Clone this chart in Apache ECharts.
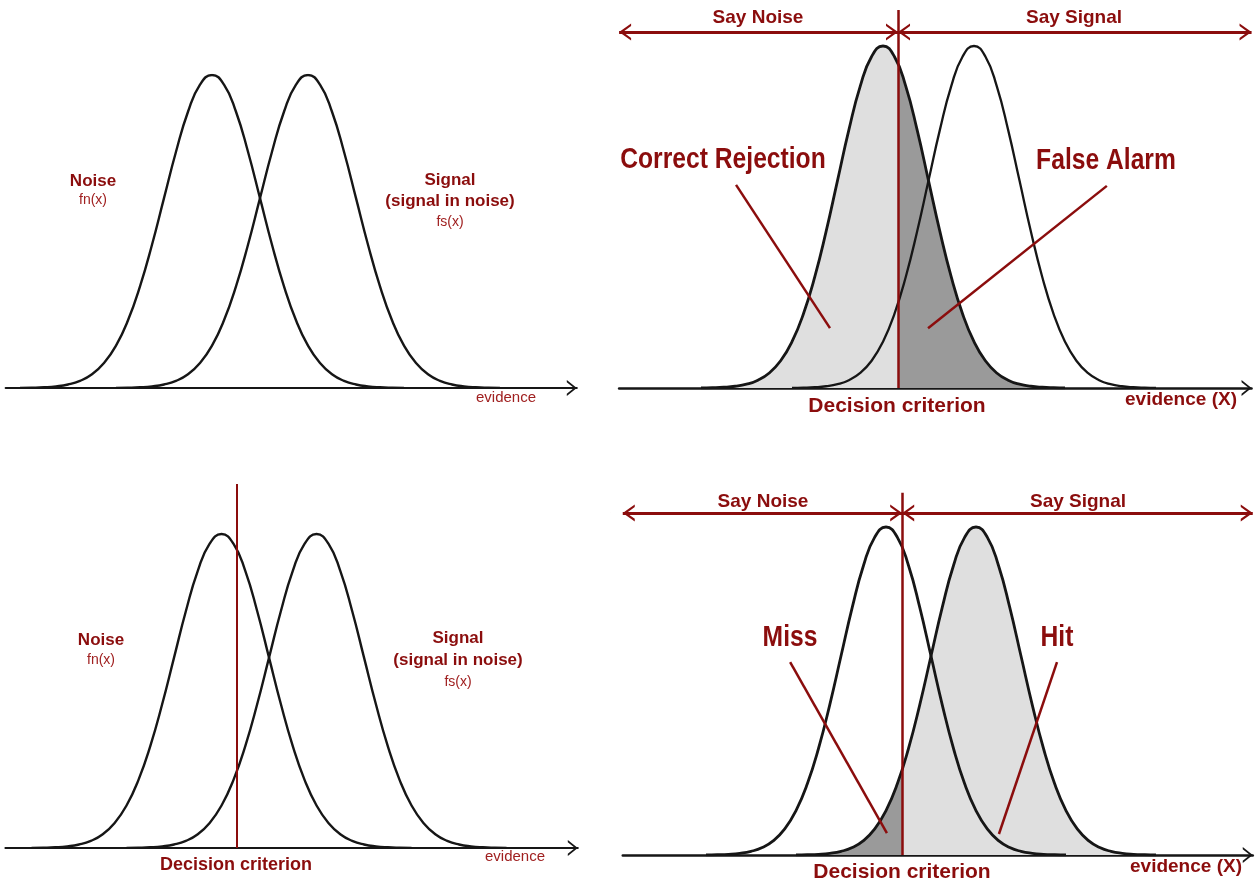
<!DOCTYPE html>
<html><head><meta charset="utf-8">
<script src="https://cdn.jsdelivr.net/npm/echarts@6/dist/echarts.min.js"></script>
<style>html,body{margin:0;padding:0;background:#fff}#c{width:1255px;height:884px}</style>
</head><body><div id="c"></div>
<script>
// ---- data (evidence in SD units, density relative to peak) ----
const noiseX  = [-4,-3.75,-3.5,-3.25,-3,-2.75,-2.5,-2.25,-2,-1.75,-1.5,-1.25,-1,-0.75,-0.5,-0.25,0,0.25,0.5,0.75,1,1.25,1.5,1.75,2,2.25,2.5,2.75,3,3.25,3.5,3.75,4];
const noiseY  = [0.0003,0.0009,0.0022,0.0051,0.0111,0.0228,0.0439,0.0796,0.1353,0.2163,0.3247,0.4578,0.6065,0.7548,0.8825,0.9692,1,0.9692,0.8825,0.7548,0.6065,0.4578,0.3247,0.2163,0.1353,0.0796,0.0439,0.0228,0.0111,0.0051,0.0022,0.0009,0.0003];
const signalX = [-2,-1.75,-1.5,-1.25,-1,-0.75,-0.5,-0.25,0,0.25,0.5,0.75,1,1.25,1.5,1.75,2,2.25,2.5,2.75,3,3.25,3.5,3.75,4,4.25,4.5,4.75,5,5.25,5.5,5.75,6];
const signalY = [0.0003,0.0009,0.0022,0.0051,0.0111,0.0228,0.0439,0.0796,0.1353,0.2163,0.3247,0.4578,0.6065,0.7548,0.8825,0.9692,1,0.9692,0.8825,0.7548,0.6065,0.4578,0.3247,0.2163,0.1353,0.0796,0.0439,0.0228,0.0111,0.0051,0.0022,0.0009,0.0003];
const criterionTR = 0.33;  // top-right panel
const criterionBL = 0.32;  // bottom-left panel
const criterionBR = 0.36;  // bottom-right panel

// ---- style ----
const RED = '#8b0d0d', RED2 = '#a02020', INK = '#161616';
const LIGHT = '#dfdfdf', DARK = '#9a9a9a';
const FONT = '"Liberation Sans", Arial, Helvetica, sans-serif';
// chevron arrow pointing up, tip at the centre of its box
const axisArrow = 'path://M50,0L50.5,0L50,0.5Z M50,62.5L100,125L86,125L50,80L14,125L0,125Z';
const lineArrow = 'path://M50,0L50.5,0L50,0.5Z M50,50L100,100L85,100L50,66L15,100L0,100Z';

// ---- panel layout ----
const panels = [
  {left: 5.6,   top: 75,    width: 571.2, height: 313,   xmin: -4.3,  xmax: 7.6,  ymax: 1,    axisW: 2},
  {left: 619.1, top: 8.38,  width: 632.45,height: 379.62,xmin: -5.8,  xmax: 8.1,  ymax: 1.11, axisW: 2.5},
  {left: 5.4,   top: 483.8, width: 572.4, height: 364.2, xmin: -4.55, xmax: 7.5,  ymax: 1.16, axisW: 2},
  {left: 622.75,top: 490.9, width: 630,   height: 364.1, xmin: -5.85, xmax: 8.15, ymax: 1.11, axisW: 2.5}
];

const grid = panels.map(p => ({left: p.left, top: p.top, width: p.width, height: p.height, containLabel: false}));
const xAxis = panels.map((p, i) => ({
  type: 'value', gridIndex: i, min: p.xmin, max: p.xmax,
  axisLine: {show: true, onZero: true, lineStyle: {color: INK, width: p.axisW},
             symbol: ['none', axisArrow], symbolSize: [16, 20]},
  axisTick: {show: false}, axisLabel: {show: false}, splitLine: {show: false}
}));
const yAxis = panels.map((p, i) => ({type: 'value', gridIndex: i, min: 0, max: p.ymax, show: false}));

function pairs(xs, ys) { return xs.map((x, i) => [x, ys[i]]); }
function curve(xs, ys, gi, w, extra) {
  return Object.assign({
    type: 'line', xAxisIndex: gi, yAxisIndex: gi, data: pairs(xs, ys),
    smooth: 0.5, showSymbol: false, silent: true, animation: false,
    lineStyle: {color: INK, width: w}, z: 3
  }, extra || {});
}
function area(xs, ys, gi) {
  return {
    type: 'line', xAxisIndex: gi, yAxisIndex: gi, data: pairs(xs, ys),
    smooth: 0.5, showSymbol: false, silent: true, animation: false,
    lineStyle: {width: 0, opacity: 0}, areaStyle: {opacity: 1}, z: 2
  };
}
function marks(items) {
  return {silent: true, animation: false, symbol: ['none', 'none'], label: {show: false},
          lineStyle: {color: RED, width: 2.5, type: 'solid'}, emphasis: {disabled: true}, data: items};
}
function seg(a, b, w, arrows) {
  const s = arrows ? {symbol: lineArrow, symbolSize: [17, 24]} : {};
  return [Object.assign({coord: a, lineStyle: {width: w, color: RED}}, s), Object.assign({coord: b}, s)];
}

const series = [
  // top-left
  curve(noiseX, noiseY, 0, 2.4),
  curve(signalX, signalY, 0, 2.4),
  // top-right
  area(noiseX, noiseY, 1),                       // index 2
  curve(noiseX, noiseY, 1, 2.8),
  curve(signalX, signalY, 1, 2.3, {markLine: marks([
    seg([criterionTR, 0], [criterionTR, 1.105], 2.5),
    seg([-5.8, 1.041], [criterionTR, 1.041], 3, true),
    seg([criterionTR, 1.041], [8.1, 1.041], 3, true),
    seg([-3.23, 0.594], [-1.165, 0.175], 2.5),
    seg([4.92, 0.591], [0.99, 0.175], 2.5)
  ])}),
  // bottom-left
  curve(noiseX, noiseY, 2, 2.4),
  curve(signalX, signalY, 2, 2.4, {markLine: marks([
    seg([criterionBL, 0], [criterionBL, 1.159], 2)
  ])}),
  // bottom-right
  area(signalX, signalY, 3),                     // index 7
  curve(noiseX, noiseY, 3, 2.8),
  curve(signalX, signalY, 3, 2.8, {markLine: marks([
    seg([criterionBR, 0], [criterionBR, 1.104], 2.5),
    seg([-5.85, 1.043], [criterionBR, 1.043], 3, true),
    seg([criterionBR, 1.043], [8.15, 1.043], 3, true),
    seg([-2.13, 0.588], [0.02, 0.067], 2.5),
    seg([3.8, 0.588], [2.51, 0.064], 2.5)
  ])})
];

const visualMap = [
  {type: 'piecewise', show: false, seriesIndex: 2, dimension: 0,
   pieces: [{min: -20, max: criterionTR, color: LIGHT}, {min: criterionTR, max: 20, color: DARK}]},
  {type: 'piecewise', show: false, seriesIndex: 7, dimension: 0,
   pieces: [{min: -20, max: criterionBR, color: DARK}, {min: criterionBR, max: 20, color: LIGHT}]}
];

// ---- text annotations [text, x, y, size, bold, colour, horizontal squeeze] ----
const texts = [
  ['Noise', 93, 181, 17, true, RED], ['fn(x)', 93, 200, 14, false, RED2],
  ['Signal', 450, 180, 17, true, RED], ['(signal in noise)', 450, 201, 17, true, RED], ['fs(x)', 450, 222, 14, false, RED2],
  ['evidence', 506, 398, 15, false, RED2],

  ['Say Noise', 758, 18, 19, true, RED], ['Say Signal', 1074, 18, 19, true, RED],
  ['Correct Rejection', 723, 160, 29, true, RED, 0.85], ['False Alarm', 1106, 161, 29, true, RED, 0.85],
  ['Decision criterion', 897, 406, 21, true, RED], ['evidence (X)', 1181, 400, 19, true, RED],

  ['Noise', 101, 640, 17, true, RED], ['fn(x)', 101, 660, 14, false, RED2],
  ['Signal', 458, 638, 17, true, RED], ['(signal in noise)', 458, 660, 17, true, RED], ['fs(x)', 458, 682, 14, false, RED2],
  ['Decision criterion', 236, 865, 18, true, RED], ['evidence', 515, 857, 15, false, RED2],

  ['Say Noise', 763, 502, 19, true, RED], ['Say Signal', 1078, 502, 19, true, RED],
  ['Miss', 790, 638, 29, true, RED, 0.85], ['Hit', 1057, 638, 29, true, RED, 0.85],
  ['Decision criterion', 902, 872, 21, true, RED], ['evidence (X)', 1186, 867, 19, true, RED]
];
const graphic = texts.map(t => ({
  type: 'text', x: t[1], y: t[2], scaleX: t[6] || 1, silent: true, z: 100,
  style: {text: t[0], fill: t[5], font: (t[4] ? 'bold ' : '') + t[3] + 'px ' + FONT,
          align: 'center', verticalAlign: 'middle'}
}));

const chart = echarts.init(document.getElementById('c'), null, {renderer: 'canvas'});
chart.setOption({
  animation: false, backgroundColor: '#ffffff',
  grid, xAxis, yAxis, series, visualMap, graphic
});
</script></body></html>
